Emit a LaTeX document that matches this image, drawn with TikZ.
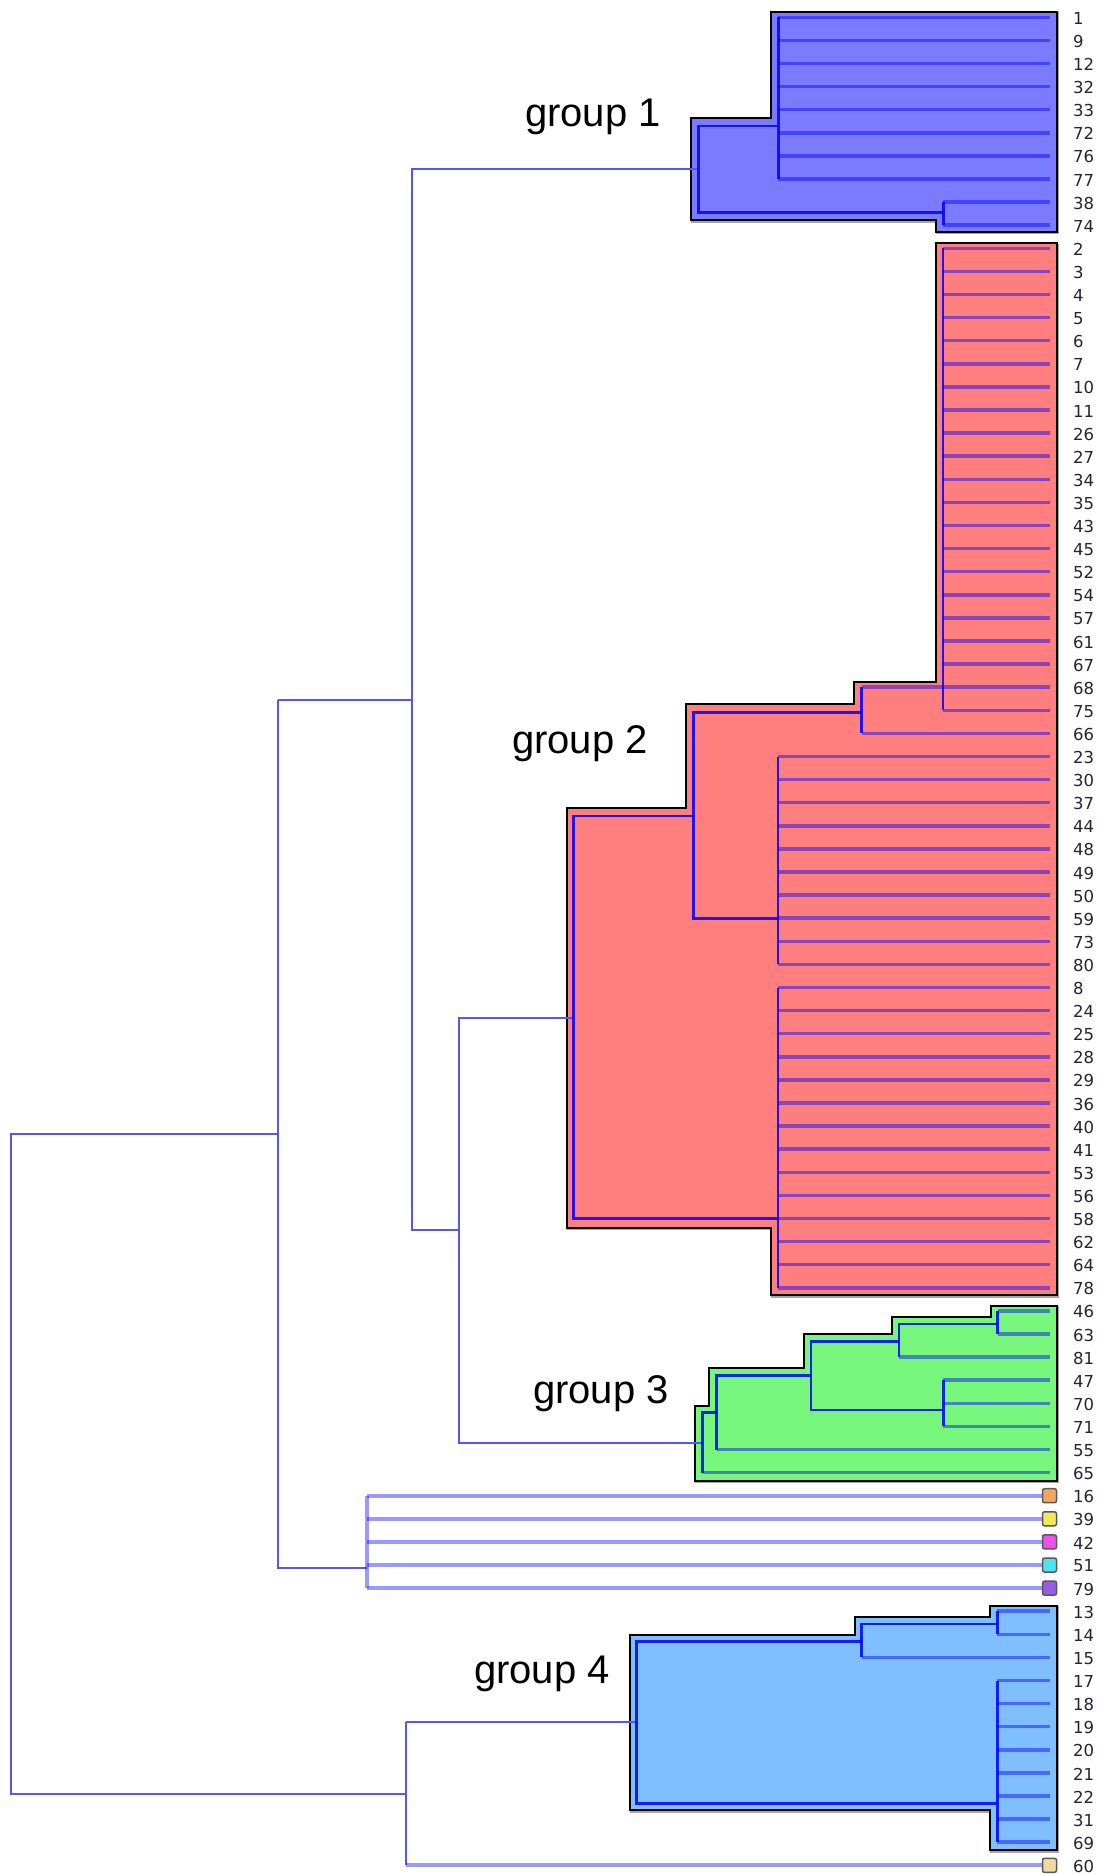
\documentclass[tikz,border=0pt]{standalone}
\usepackage{fontspec}
\setmainfont{Liberation Sans}
\newfontfamily\labfont{DejaVu Sans}
\definecolor{gA}{HTML}{7B7BFF}
\definecolor{gB}{HTML}{FF7F7F}
\definecolor{gC}{HTML}{76F67A}
\definecolor{gD}{HTML}{7FBFFF}
\definecolor{treeblue}{HTML}{5555FF}
\definecolor{mOr}{HTML}{F5A65B}
\definecolor{mYe}{HTML}{F2E85A}
\definecolor{mMa}{HTML}{EE4FEE}
\definecolor{mCy}{HTML}{4FE3EE}
\definecolor{mPu}{HTML}{9A5AE8}
\definecolor{mBe}{HTML}{F0D8A0}
\definecolor{labcol}{HTML}{2A2230}
\newcommand\ry[1]{17.3+23.1*#1}
\tikzset{
  outerln/.style={draw=treeblue, line width=2pt},
  innerln/.style={draw=blue, line width=2.8pt, opacity=0.85},
  leafln/.style={draw=blue, line width=3.5pt, opacity=0.45},
  singleln/.style={draw=blue, line width=4pt, opacity=0.4},
  grpbox/.style={draw=black, line width=2pt, line join=miter},
  grpshadow/.style={draw=black!35, line width=2.5pt},
  lbl/.style={anchor=west, inner sep=0pt, font=\labfont\fontsize{16.5}{16.5}\selectfont, text=labcol},
  glabel/.style={anchor=base east, inner sep=0pt, font=\fontsize{40}{40}\selectfont},
  marker/.style={draw=black!65, line width=1.5pt, rounded corners=2pt, minimum width=14pt, minimum height=14pt, inner sep=0pt}
}
\begin{document}
\begin{tikzpicture}[x=1pt,y=-1pt]
\useasboundingbox[fill=white] (0,0) rectangle (1102,1875);

% ---------- group areas ----------
\def\gone{(770.7,11.7) -- (1056.7,11.7) -- (1056.7,231.7) -- (936,231.7) -- (936,220) -- (691,220) -- (691,117.7) -- (770.7,117.7) -- cycle}
\def\gtwo{(935.7,243.3) -- (1056.7,243.3) -- (1056.7,1295) -- (770.7,1295) -- (770.7,1227.7) -- (566.7,1227.7) -- (566.7,808.3) -- (686,808.3) -- (686,704.3) -- (854.3,704.3) -- (854.3,681.7) -- (935.7,681.7) -- cycle}
\def\gthree{(990.7,1306) -- (1056.7,1306) -- (1056.7,1480.7) -- (695,1480.7) -- (695,1405.7) -- (709,1405.7) -- (709,1367.7) -- (804,1367.7) -- (804,1334) -- (891.7,1334) -- (891.7,1317.3) -- (990.7,1317.3) -- cycle}
\def\gfour{(990,1606) -- (1056.7,1606) -- (1056.7,1850) -- (990,1850) -- (990,1810) -- (630,1810) -- (630,1634.7) -- (855,1634.7) -- (855,1617.3) -- (990,1617.3) -- cycle}

\foreach \p in {\gone,\gtwo,\gthree,\gfour}{
  \draw[grpshadow, shift={(1.5,1.5)}] \p;
}
\fill[gA] \gone;
\fill[gB] \gtwo;
\fill[gC] \gthree;
\fill[gD] \gfour;
\draw[grpbox] \gone;
\draw[grpbox] \gtwo;
\draw[grpbox] \gthree;
\draw[grpbox] \gfour;

% ---------- outer tree ----------
\draw[outerln] (698.3,169) -- (411.5,169) -- (411.5,1230) -- (459.2,1230);
\draw[outerln] (277.5,700) -- (411.5,700);
\draw[outerln] (573.3,1017.7) -- (459.2,1017.7) -- (459.2,1443.3) -- (702.7,1443.3);
\draw[outerln] (277.5,700) -- (277.5,1567.5) -- (367.4,1567.5);
\draw[outerln] (277.5,1133.8) -- (10.7,1133.8) -- (10.7,1794.3) -- (406,1794.3);
\draw[outerln] (406,1722.3) -- (406,1865);
\draw[outerln] (406,1722.3) -- (636.7,1722.3);
\draw[singleln] (367.4,{\ry{64}}) -- (367.4,{\ry{68}});

% ---------- leaf lines ----------
\foreach \r in {0,...,7} \draw[leafln] (778.3,{\ry{\r}}) -- (1050,{\ry{\r}});
\foreach \r in {8,9} \draw[leafln] (943.3,{\ry{\r}}) -- (1050,{\ry{\r}});
\foreach \r in {10,...,28,30} \draw[leafln] (943,{\ry{\r}}) -- (1050,{\ry{\r}});
\foreach \r in {29,31} \draw[leafln] (861.7,{\ry{\r}}) -- (1050,{\ry{\r}});
\foreach \r in {32,...,55} \draw[leafln] (778,{\ry{\r}}) -- (1050,{\ry{\r}});
\foreach \r in {56,57} \draw[leafln] (997.7,{\ry{\r}}) -- (1050,{\ry{\r}});
\draw[leafln] (899,{\ry{58}}) -- (1050,{\ry{58}});
\foreach \r in {59,60,61} \draw[leafln] (943.3,{\ry{\r}}) -- (1050,{\ry{\r}});
\draw[leafln] (716.7,{\ry{62}}) -- (1050,{\ry{62}});
\draw[leafln] (702.7,{\ry{63}}) -- (1050,{\ry{63}});
\foreach \r in {64,...,68} \draw[singleln] (367.4,{\ry{\r}}) -- (1045,{\ry{\r}});
\foreach \r in {69,70} \draw[leafln] (997.3,{\ry{\r}}) -- (1050,{\ry{\r}});
\draw[leafln] (861.7,{\ry{71}}) -- (1050,{\ry{71}});
\foreach \r in {72,...,79} \draw[leafln] (997.3,{\ry{\r}}) -- (1050,{\ry{\r}});
\draw[singleln] (406,{\ry{80}}) -- (1045,{\ry{80}});

% ---------- inner tree: group 1 ----------
\draw[innerln] (778.3,{\ry{0}}) -- (778.3,{\ry{7}});
\draw[innerln] (778.3,126) -- (698.3,126) -- (698.3,212.3) -- (943.3,212.3);
\draw[innerln] (943.3,{\ry{8}}) -- (943.3,{\ry{9}});
% group 2
\draw[innerln] (943,{\ry{10}}) -- (943,{\ry{30}});
\draw[innerln] (861.7,{\ry{29}}) -- (861.7,{\ry{31}});
\draw[innerln] (861.7,712.3) -- (693.3,712.3) -- (693.3,{\ry{39}}) -- (778,{\ry{39}});
\draw[innerln] (778,{\ry{32}}) -- (778,{\ry{41}});
\draw[innerln] (693.3,816) -- (573.3,816) -- (573.3,{\ry{52}}) -- (778,{\ry{52}});
\draw[innerln] (778,{\ry{42}}) -- (778,{\ry{55}});
% group 3
\draw[innerln] (997.7,{\ry{56}}) -- (997.7,{\ry{57}});
\draw[innerln] (997.7,1324) -- (899,1324) -- (899,{\ry{58}});
\draw[innerln] (899,1341.7) -- (811,1341.7) -- (811,1410) -- (943.3,1410);
\draw[innerln] (943.3,{\ry{59}}) -- (943.3,{\ry{61}});
\draw[innerln] (811,1375.7) -- (716.7,1375.7) -- (716.7,{\ry{62}});
\draw[innerln] (716.7,1412.7) -- (702.7,1412.7) -- (702.7,{\ry{63}});
% group 4
\draw[innerln] (997.3,{\ry{69}}) -- (997.3,{\ry{70}});
\draw[innerln] (997.3,1624) -- (861.7,1624) -- (861.7,{\ry{71}});
\draw[innerln] (861.7,1641.7) -- (636.7,1641.7) -- (636.7,1803.3) -- (997.3,1803.3);
\draw[innerln] (997.3,{\ry{72}}) -- (997.3,{\ry{79}});

% ---------- singleton markers ----------
\node[marker, fill=mOr] (m16) at (1049.5,{\ry{64}}) {};
\node[marker, fill=mYe] (m39) at (1049.5,{\ry{65}}) {};
\node[marker, fill=mMa] (m42) at (1049.5,{\ry{66}}) {};
\node[marker, fill=mCy] (m51) at (1049.5,{\ry{67}}) {};
\node[marker, fill=mPu] (m79) at (1049.5,{\ry{68}}) {};
\node[marker, fill=mBe] (m60) at (1049.5,{\ry{80}}) {};

% ---------- leaf labels ----------
\foreach \lab [count=\i from 0] in {1,9,12,32,33,72,76,77,38,74,
  2,3,4,5,6,7,10,11,26,27,34,35,43,45,52,54,57,61,67,68,75,66,
  23,30,37,44,48,49,50,59,73,80,
  8,24,25,28,29,36,40,41,53,56,58,62,64,78,
  46,63,81,47,70,71,55,65,
  16,39,42,51,79,
  13,14,15,17,18,19,20,21,22,31,69,
  60}
  \node[lbl] (leaf\lab) at (1073,{\ry{\i}+1}) {\lab};

% ---------- group labels ----------
\node[glabel] (grp1) at (661,126) {group 1};
\node[glabel] (grp2) at (648,753.3) {group 2};
\node[glabel] (grp3) at (669,1403.5) {group 3};
\node[glabel] (grp4) at (610,1683) {group 4};
\end{tikzpicture}
\end{document}
